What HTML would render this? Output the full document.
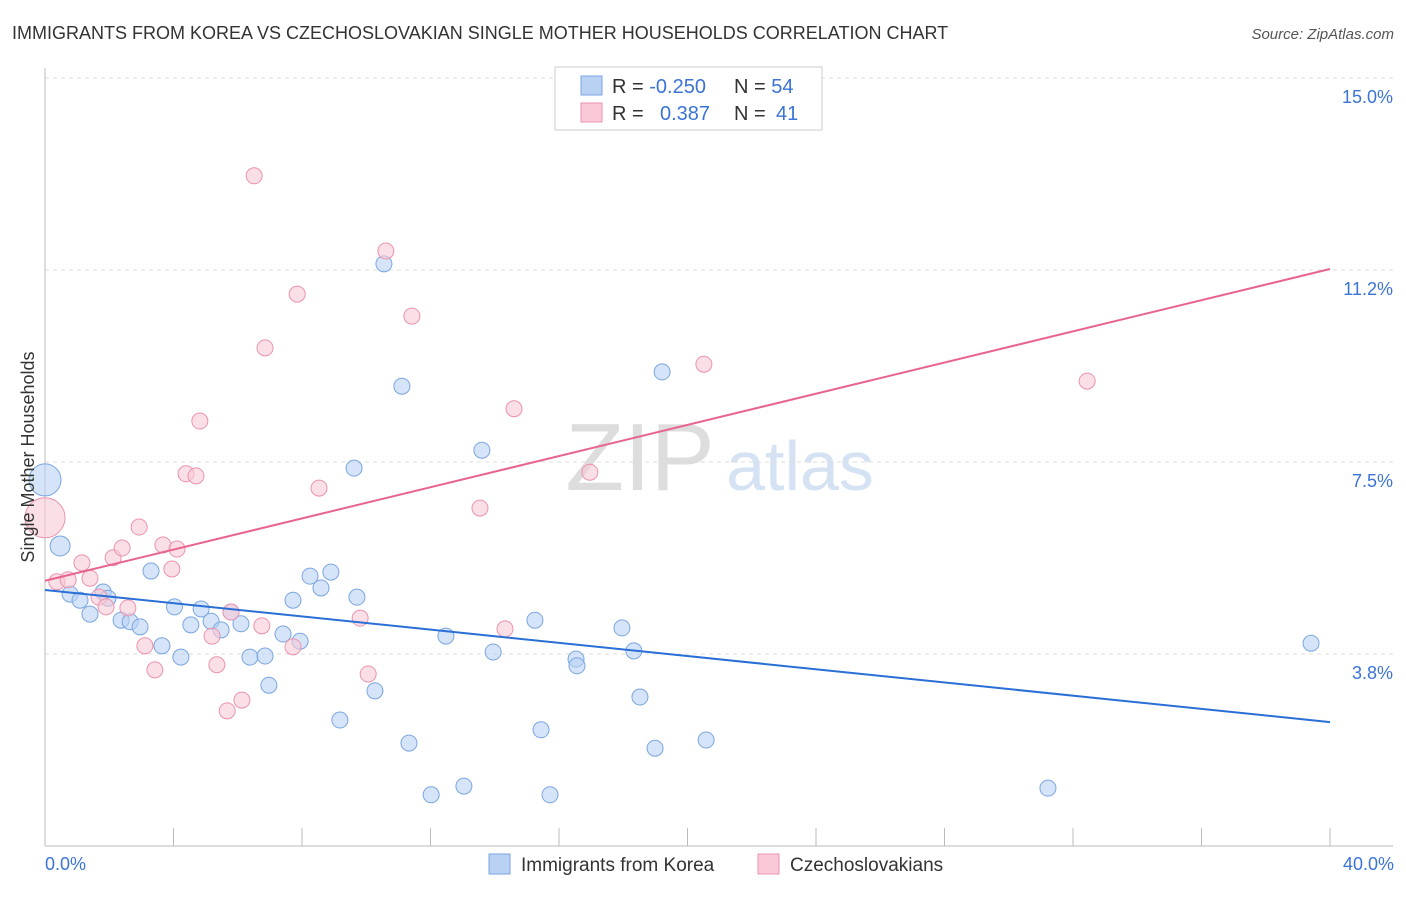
<!DOCTYPE html>
<html><head><meta charset="utf-8"><style>
body{margin:0;background:#fff;font-family:"Liberation Sans",sans-serif}
svg text{font-family:"Liberation Sans",sans-serif}
</style></head><body>
<svg width="1406" height="892">
<text x="12" y="39" font-size="18" fill="#333">IMMIGRANTS FROM KOREA VS CZECHOSLOVAKIAN SINGLE MOTHER HOUSEHOLDS CORRELATION CHART</text>
<text x="1394" y="39" font-size="15" fill="#555" text-anchor="end" font-style="italic">Source: ZipAtlas.com</text>
<text x="640" y="490" font-size="96" fill="#ddd" font-family="Liberation Serif" text-anchor="middle">ZIP</text>
<text x="800" y="490" font-size="70" fill="#d4e2f4" text-anchor="middle">atlas</text>
<g id="grid"></g><g id="axes"></g><g id="pts"></g><g id="lines"></g>
<text transform="translate(34,457) rotate(-90)" font-size="18" fill="#333" text-anchor="middle">Single Mother Households</text>
<text x="45" y="870" font-size="18" fill="#3b74d6">0.0%</text>
<text x="1394" y="870" font-size="18" fill="#3b74d6" text-anchor="end">40.0%</text>
<g>
<rect x="555" y="67" width="267" height="63" fill="#fff" stroke="#ccc"/>
<rect x="581" y="76" width="21" height="19" fill="#b9d2f3" stroke="#7aa6e0"/>
<rect x="581" y="103" width="21" height="19" fill="#f9c9d7" stroke="#eb93ae"/>
<text x="612" y="93" font-size="20" fill="#333">R = <tspan fill="#3b74d6">-0.250</tspan></text>
<text x="734" y="93" font-size="20" fill="#333">N = <tspan fill="#3b74d6">54</tspan></text>
<text x="612" y="120" font-size="20" fill="#333">R = <tspan fill="#3b74d6" x="660">0.387</tspan></text>
<text x="734" y="120" font-size="20" fill="#333">N = <tspan fill="#3b74d6" x="776">41</tspan></text>
</g>
<g>
<rect x="489" y="854" width="21" height="20" fill="#b9d2f3" stroke="#7aa6e0"/>
<text x="521" y="871" font-size="19" fill="#333">Immigrants from Korea</text>
<rect x="758" y="854" width="21" height="20" fill="#f9c9d7" stroke="#eb93ae"/>
<text x="790" y="871" font-size="19" fill="#333">Czechoslovakians</text>
</g>
</svg>
<script>
const yTicks=[15.0,11.25,7.5,3.75];
const yTickLabels=["15.0%","11.2%","7.5%","3.8%"];
const xTicks=[0,4,8,12,16,20,24,28,32,36,40];
const blueX=[0,0.47,0.78,1.09,1.40,1.81,1.96,2.37,2.65,2.96,3.30,3.64,4.03,4.23,4.54,4.86,5.17,5.48,5.79,6.10,6.38,6.85,6.97,7.41,7.72,7.94,8.25,8.59,8.90,9.18,9.62,9.71,10.27,10.55,11.11,11.33,12.02,12.48,13.04,13.60,13.95,15.25,15.44,15.72,16.53,16.56,17.96,18.33,18.52,18.99,19.21,20.58,31.22,39.41];
const blueY=[7.15,5.86,4.92,4.80,4.53,4.96,4.84,4.41,4.38,4.28,5.37,3.91,4.67,3.69,4.32,4.63,4.39,4.22,4.57,4.34,3.69,3.71,3.14,4.14,4.80,4.00,5.27,5.04,5.35,2.46,7.38,4.86,3.03,11.37,8.98,2.01,1.00,4.10,1.17,7.73,3.79,4.41,2.27,1.00,3.65,3.52,4.26,3.81,2.91,1.91,9.26,2.07,1.13,3.96];
const pinkX=[0,0.37,0.72,1.15,1.40,1.68,1.90,2.12,2.40,2.58,2.93,3.11,3.42,3.67,3.95,4.11,4.39,4.70,4.82,5.20,5.35,5.67,5.79,6.13,6.51,6.75,6.85,7.72,7.85,8.53,9.81,10.06,10.61,11.42,13.54,14.32,14.60,16.96,20.51,32.44];
const pinkY=[6.41,5.16,5.20,5.53,5.23,4.86,4.67,5.63,5.82,4.65,6.23,3.91,3.44,5.88,5.41,5.80,7.27,7.23,8.30,4.10,3.54,2.64,4.57,2.85,13.09,4.30,9.73,3.89,10.78,6.99,4.45,3.36,11.62,10.35,6.60,4.24,8.54,7.30,9.41,9.08];
const blueTrend=[5.0,2.42];
const pinkTrend=[5.18,11.27];
const NS="http://www.w3.org/2000/svg";
const sx=v=>45+v*32.125, sy=v=>78+(15-v)*51.2;
function mk(tag,attrs,parent){const e=document.createElementNS(NS,tag);for(const k in attrs)e.setAttribute(k,attrs[k]);document.getElementById(parent).appendChild(e);return e;}
yTicks.forEach((t,i)=>{
 const l=mk('line',{x1:45,x2:1393,y1:sy(t),y2:sy(t),stroke:'#ddd','stroke-dasharray':'4,4'},'grid');
 
 
 const tx=mk('text',{x:1393,y:sy(t)+25,'font-size':18,fill:'#3b74d6','text-anchor':'end'},'grid');
 tx.textContent=yTickLabels[i];
 
 
});
let a=mk('line',{x1:45,x2:45,y1:68,y2:846,stroke:'#bbb'},'axes');


a=mk('line',{x1:45,x2:1393,y1:846,y2:846,stroke:'#bbb'},'axes');


xTicks.forEach(t=>{const e=mk('line',{x1:sx(t),x2:sx(t),y1:828,y2:846,stroke:'#bbb'},'axes');
 
 });
blueX.forEach((x,i)=>{const r=i==0?16:(i==1?10:8);const c=mk('circle',{cx:sx(x),cy:sy(blueY[i]),r:r,fill:'#b9d2f3','fill-opacity':0.6,stroke:'#7aa6e0'},'pts');
 
 });
pinkX.forEach((x,i)=>{const r=i==0?20:8;const c=mk('circle',{cx:sx(x),cy:sy(pinkY[i]),r:r,fill:'#f9c9d7','fill-opacity':0.6,stroke:'#eb93ae'},'pts');
 
 });
let tl=mk('line',{x1:sx(0),x2:sx(40),y1:sy(blueTrend[0]),y2:sy(blueTrend[1]),stroke:'#2a6fd6','stroke-width':2},'lines');


tl=mk('line',{x1:sx(0),x2:sx(40),y1:sy(pinkTrend[0]),y2:sy(pinkTrend[1]),stroke:'#e8648e','stroke-width':2},'lines');


</script>
</body></html>
